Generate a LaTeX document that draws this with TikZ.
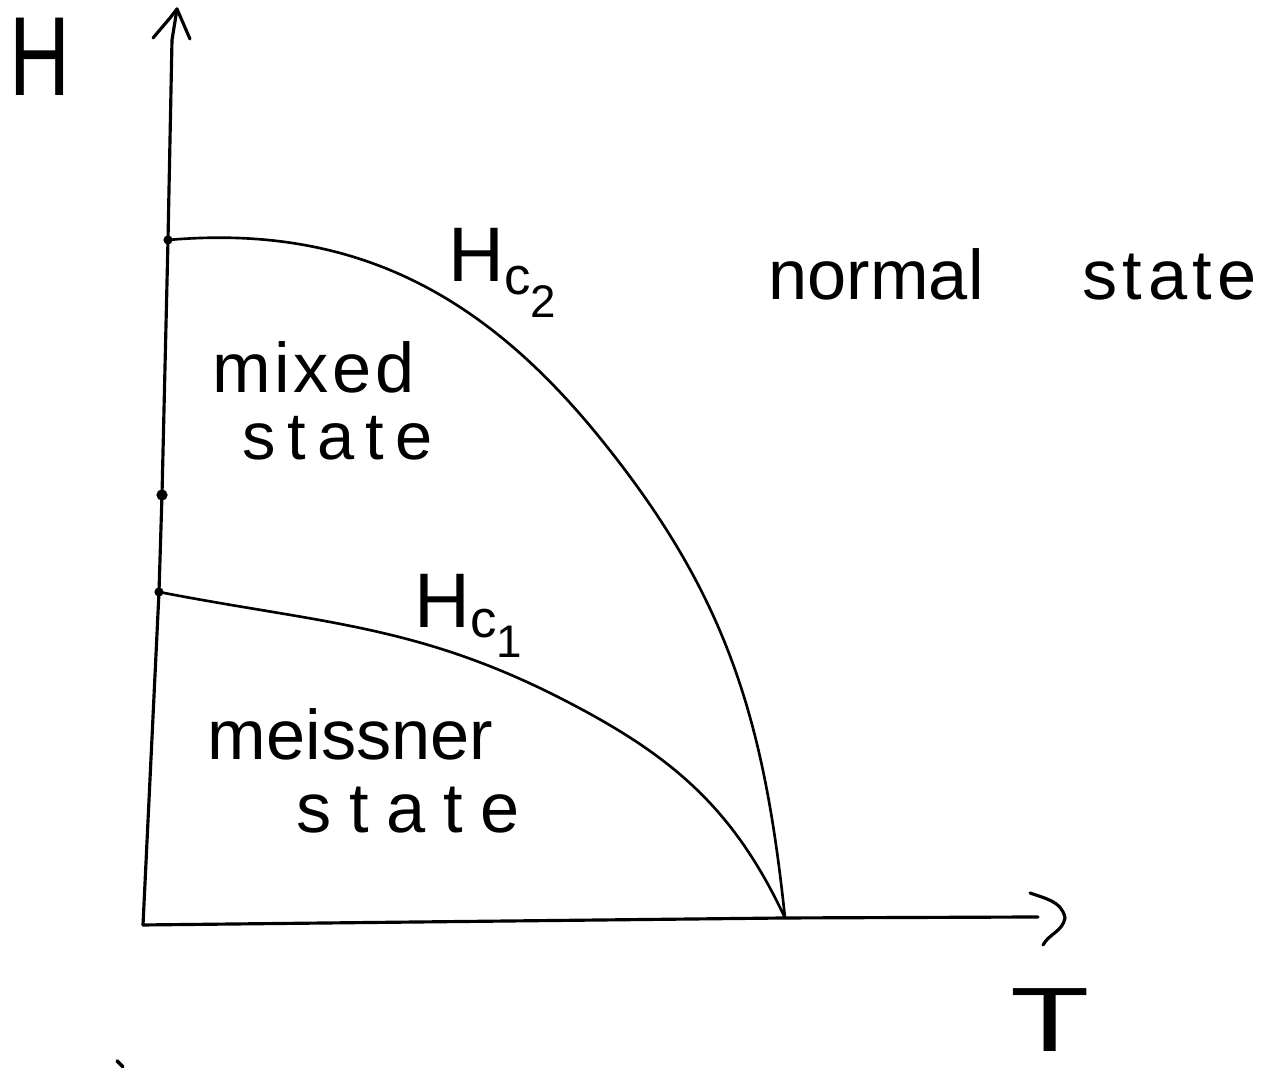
\documentclass[tikz,border=0pt]{standalone}
\usepackage{graphicx}
\usepackage{fontspec}
\setmainfont{Liberation Sans}
\begin{document}
\begin{tikzpicture}[x=0.01cm,y=-0.01cm, line cap=round, line join=round,
  axis/.style={line width=0.9pt},
  curve/.style={line width=0.75pt},
  lbl/.style={font=\fontsize{20}{24}\selectfont, inner sep=0pt, anchor=base west},
  dot/.style={circle, fill=black, inner sep=0pt, minimum size=#1},
]
\useasboundingbox (0,0) rectangle (1265,1068);
% axis points
\coordinate (O)    at (143,925);
\coordinate (Ytop) at (177,9);
\coordinate (Yend) at (172,40);
\coordinate (Tc)   at (785,918);
\coordinate (Xend) at (1038,917);
\coordinate (H2)   at (168,240);
\coordinate (H0)   at (162,495);
\coordinate (H1)   at (159,592);
\coordinate (M2)   at (600,438);
\coordinate (M1)   at (560,698);
% axes
\draw[axis] (O) -- (H1) -- (H0) -- (H2) -- (Yend) -- (Ytop);
\draw[axis] (153,38) -- (170,18) -- (Ytop) -- (190,39);
\draw[axis] (O) -- (Tc) -- (Xend);
\draw[axis] (1030,893) to[out=-20,in=100] (1065,918) to[out=-100,in=60] (1043,945);
% phase boundaries
\draw[curve] (H2) to[out=5,in=129] (M2) to[out=-51,in=96] (Tc);
\draw[curve] (H1) to[out=-11,in=153] (M1) to[out=-27,in=115] (Tc);
% dots
\node[dot=2.6pt] (d2) at (H2) {};
\node[dot=3.2pt] (d0) at (H0) {};
\node[dot=2.6pt] (d1) at (H1) {};
% stray mark
\draw[line width=1pt] (117,1061) -- (123,1067);
% labels
\node[lbl, anchor=base, font=\fontsize{32}{36}\selectfont] (Hlab) at (40,96) {\scalebox{0.75}[1]{H}};
\node[lbl, anchor=base, font=\fontsize{26}{28}\selectfont] (Tlab) at (1050,1052) {\scalebox{1.42}[1]{T}};
\node[lbl, font=\fontsize{22}{26}\selectfont] (hc2) at (448,282) {H\raisebox{-3.7pt}{\fontsize{15}{15}\selectfont c}\raisebox{-10pt}{\fontsize{13}{13}\selectfont 2}};
\node[lbl, font=\fontsize{22}{26}\selectfont] (hc1) at (414,628) {H\raisebox{-2.6pt}{\fontsize{15}{15}\selectfont c}\raisebox{-8.3pt}{\fontsize{13}{13}\selectfont 1}};
\node[lbl] (normal) at (768,300) {normal\hspace{28pt}{\addfontfeature{LetterSpace=8}state}};
\node[lbl, font=\fontsize{20}{24}\selectfont\addfontfeature{LetterSpace=5}] (mixed) at (212,393) {mixed};
\node[lbl, font=\fontsize{19}{23}\selectfont\addfontfeature{LetterSpace=17}] (mstate) at (242,460) {state};
\node[lbl] (meiss) at (207,760) {meissner};
\node[lbl, font=\fontsize{20}{24}\selectfont\addfontfeature{LetterSpace=25}] (sstate) at (296,833) {state};
\end{tikzpicture}
\end{document}
